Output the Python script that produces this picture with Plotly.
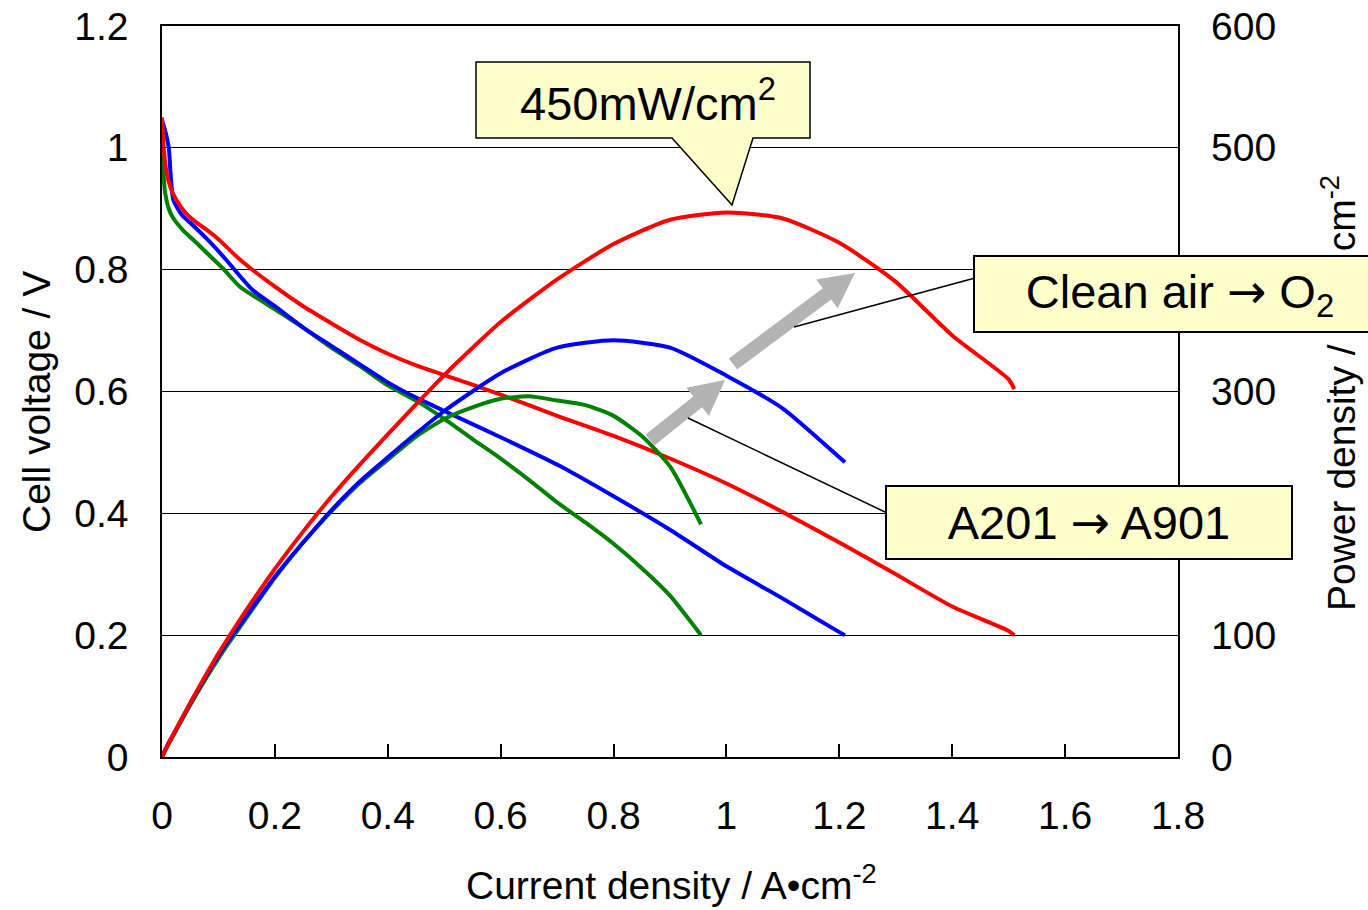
import math
import plotly.graph_objects as go

# ---------------- data ----------------
red_x = [0, 0.003, 0.008, 0.015, 0.025, 0.04, 0.06, 0.08, 0.1, 0.14, 0.2, 0.25, 0.3, 0.35,
         0.4, 0.45, 0.5, 0.6, 0.7, 0.8, 0.9, 1.0, 1.1, 1.2, 1.3, 1.4, 1.5, 1.51]
red_v = [1.05, 1.00, 0.96, 0.935, 0.915, 0.895, 0.878, 0.865, 0.850, 0.815, 0.772, 0.74, 0.712, 0.685,
         0.662, 0.643, 0.627, 0.595, 0.56, 0.527, 0.49, 0.449, 0.402, 0.352, 0.300, 0.247, 0.207, 0.200]
red_p = [0, 3.0, 7.7, 14.0, 22.9, 35.8, 52.7, 69.2, 85.0, 114.1, 154.4, 185, 213.6, 239.8,
         264.8, 289.4, 313.5, 357, 392, 421, 441, 447, 442, 422, 390, 346, 310, 302]

blue_x = [0, 0.005, 0.012, 0.015, 0.02, 0.035, 0.05, 0.08, 0.11, 0.16, 0.2, 0.25, 0.3, 0.35,
          0.4, 0.45, 0.5, 0.6, 0.7, 0.8, 0.9, 1.0, 1.1, 1.2, 1.21]
blue_v = [1.045, 1.03, 1.0, 0.96, 0.915, 0.89, 0.877, 0.85, 0.82, 0.767, 0.74, 0.705, 0.675, 0.645,
          0.615, 0.59, 0.568, 0.525, 0.48, 0.428, 0.373, 0.313, 0.26, 0.205, 0.2]
blue_p = [0, 5.2, 12.0, 14.4, 18.3, 31.2, 43.9, 68.0, 90.2, 122.7, 148, 176, 202.5, 226,
          246, 265.5, 284, 315, 336, 342, 336, 313, 286, 246, 242]

green_x = [0, 0.002, 0.005, 0.012, 0.019, 0.037, 0.06, 0.08, 0.11, 0.138, 0.2, 0.25, 0.3, 0.35,
           0.4, 0.45, 0.5, 0.55, 0.6, 0.65, 0.7, 0.75, 0.8, 0.85, 0.9, 0.955]
green_v = [1.0, 0.968, 0.93, 0.9, 0.886, 0.865, 0.845, 0.827, 0.80, 0.772, 0.735, 0.705, 0.672, 0.642,
           0.61, 0.585, 0.555, 0.522, 0.49, 0.455, 0.418, 0.385, 0.35, 0.31, 0.265, 0.2]
green_p = [0, 1.9, 4.7, 10.8, 16.8, 32.0, 50.7, 66.2, 88.0, 106.5, 147, 176, 201.6, 224.7,
           244, 263, 277.5, 287, 294, 296, 292.6, 288.8, 280, 263.5, 238.5, 191]

x_ticks = [0, 0.2, 0.4, 0.6, 0.8, 1.0, 1.2, 1.4, 1.6, 1.8]
y_ticks = [0, 0.2, 0.4, 0.6, 0.8, 1.0, 1.2]
y2_ticks = [0, 100, 200, 300, 400, 500, 600]

# ---------------- layout helpers (pixel -> paper) ----------------
W, H = 1368, 910
L, R, T, B = 162, 1178, 26, 757


def X(px):
    return (px - L) / (R - L)


def Y(py):
    return (B - py) / (B - T)


FONT = "Liberation Sans, Arial, sans-serif"
TICK = 39
BOXF = 47
ARW = '<span style="font-family:DejaVu Sans">\u2192</span>'

fig = go.Figure()

LW = 4
for xs, vs, c in [(green_x, green_v, "#008000"), (blue_x, blue_v, "#0000FF"), (red_x, red_v, "#FF0000")]:
    fig.add_trace(go.Scatter(x=xs, y=vs, mode="lines", line=dict(color=c, width=LW, shape="spline", smoothing=0.6),
                             yaxis="y", showlegend=False, hoverinfo="skip"))
for xs, ps, c in [(green_x, green_p, "#008000"), (blue_x, blue_p, "#0000FF"), (red_x, red_p, "#FF0000")]:
    fig.add_trace(go.Scatter(x=xs, y=ps, mode="lines", line=dict(color=c, width=LW, shape="spline", smoothing=0.6),
                             yaxis="y2", showlegend=False, hoverinfo="skip"))

shapes = []

# callout "450mW/cm2"
pts = [(476, 62), (810, 62), (810, 138), (753, 138), (732, 205), (672, 138), (476, 138)]
path = "M " + " L ".join(f"{X(a):.5f},{Y(b):.5f}" for a, b in pts) + " Z"
shapes.append(dict(type="path", xref="paper", yref="paper", path=path,
                   fillcolor="#FFFFCC", line=dict(color="black", width=1.5), layer="above"))


def arrow(tail, tip, w, hw, hl):
    dx, dy = tip[0] - tail[0], tip[1] - tail[1]
    d = math.hypot(dx, dy)
    ux, uy = dx / d, dy / d
    nx, ny = -uy, ux
    nk = (tip[0] - ux * hl, tip[1] - uy * hl)
    p = [
        (tail[0] + nx * w / 2, tail[1] + ny * w / 2),
        (nk[0] + nx * w / 2, nk[1] + ny * w / 2),
        (nk[0] + nx * hw / 2, nk[1] + ny * hw / 2),
        tip,
        (nk[0] - nx * hw / 2, nk[1] - ny * hw / 2),
        (nk[0] - nx * w / 2, nk[1] - ny * w / 2),
        (tail[0] - nx * w / 2, tail[1] - ny * w / 2),
    ]
    return "M " + " L ".join(f"{X(a):.5f},{Y(b):.5f}" for a, b in p) + " Z"


for tail, tip in [((650, 440), (725, 380)), ((733, 364), (855, 273))]:
    shapes.append(dict(type="path", xref="paper", yref="paper", path=arrow(tail, tip, 14, 36, 35),
                       fillcolor="#B3B3B3", line=dict(width=0), layer="above"))

for (a, b), (c, d) in [((794, 327), (975, 278)), ((688, 418), (885, 512))]:
    shapes.append(dict(type="line", xref="paper", yref="paper", x0=X(a), y0=Y(b), x1=X(c), y1=Y(d),
                       line=dict(color="black", width=1.5), layer="above"))

annotations = [
    dict(text="450mW/cm<sup>2</sup>", x=X(648), y=Y(100), xref="paper", yref="paper",
         showarrow=False, font=dict(family=FONT, size=BOXF, color="black"),
         xanchor="center", yanchor="middle"),
    dict(text="Cell voltage / V", x=X(36), y=Y(402), xref="paper", yref="paper", textangle=-90,
         showarrow=False, font=dict(family=FONT, size=TICK, color="black"),
         xanchor="center", yanchor="middle"),
    dict(text="Current density / A\u2022cm<sup>-2</sup>", x=X(671), y=Y(883), xref="paper", yref="paper",
         showarrow=False, font=dict(family=FONT, size=TICK, color="black"),
         xanchor="center", yanchor="middle"),
    dict(text="Power density / mW\u00b7cm<sup>-2</sup>", x=X(1339), y=Y(393), xref="paper", yref="paper",
         textangle=-90, showarrow=False, font=dict(family=FONT, size=TICK, color="black"),
         xanchor="center", yanchor="middle"),
    dict(text="Clean air " + ARW + " O<sub>2</sub>", x=X(1180), y=Y(294), xref="paper", yref="paper",
         showarrow=False, font=dict(family=FONT, size=BOXF, color="black"),
         xanchor="center", yanchor="middle", width=410, height=74, bgcolor="#FFFFCC",
         bordercolor="black", borderwidth=2, borderpad=0, align="center", valign="middle"),
    dict(text="A201 " + ARW + " A901", x=X(1089), y=Y(522.5), xref="paper", yref="paper",
         showarrow=False, font=dict(family=FONT, size=BOXF, color="black"),
         xanchor="center", yanchor="middle", width=404, height=71, bgcolor="#FFFFCC",
         bordercolor="black", borderwidth=2, borderpad=0, align="center", valign="middle"),
]

fig.update_layout(
    template="none",
    width=W, height=H,
    margin=dict(l=L, r=W - R, t=T, b=H - B, pad=0, autoexpand=False),
    paper_bgcolor="white", plot_bgcolor="white",
    font=dict(family=FONT, size=TICK, color="black"),
    showlegend=False,
    xaxis=dict(range=[0, 1.8], tickvals=x_ticks, ticktext=[f"{v:g}" for v in x_ticks],
               automargin=False,
               showgrid=False, zeroline=False, showline=True, linecolor="black", linewidth=1.5,
               mirror=True, ticks="inside", ticklen=13, tickwidth=1.5, tickcolor="black",
               ticklabelstandoff=23, tickfont=dict(family=FONT, size=TICK, color="black")),
    yaxis=dict(range=[0, 1.2], tickvals=y_ticks, ticktext=[f"{v:g}" for v in y_ticks],
               automargin=False,
               showgrid=True, gridcolor="black", gridwidth=1, zeroline=False,
               showline=True, linecolor="black", linewidth=1.5, mirror=True,
               ticks="inside", ticklen=10, tickcolor="black",
               ticklabelstandoff=24, tickfont=dict(family=FONT, size=TICK, color="black")),
    yaxis2=dict(range=[0, 600], tickvals=y2_ticks, ticktext=[str(v) for v in y2_ticks],
                automargin=False,
                overlaying="y", side="right", showgrid=False, zeroline=False, showline=False,
                ticks="", ticklabelstandoff=32,
                tickfont=dict(family=FONT, size=TICK, color="black")),
    shapes=shapes,
    annotations=annotations,
)

fig.write_html("out.html")
